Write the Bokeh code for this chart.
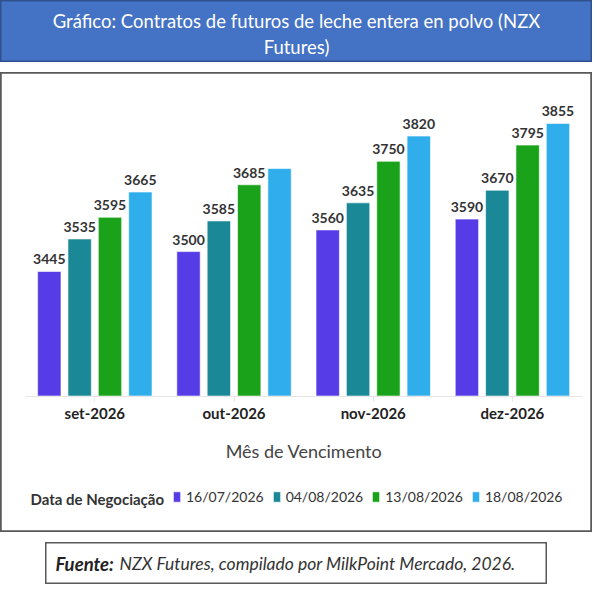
from bokeh.plotting import figure
from bokeh.models import (Range1d, Legend, LegendItem, Label, LinearAxis,
                          FixedTicker, ColumnDataSource)
from bokeh.transform import dodge
from bokeh.layouts import column
from bokeh.core.properties import value
from bokeh.embed import file_html
from bokeh.resources import INLINE

# ---------------- data ----------------
months = ["set-2026", "out-2026", "nov-2026", "dez-2026"]
dates = ["16/07/2026", "04/08/2026", "13/08/2026", "18/08/2026"]
v_1607 = [3445, 3500, 3560, 3590]
v_0408 = [3535, 3585, 3635, 3670]
v_1308 = [3595, 3685, 3750, 3795]
v_1808 = [3665, 3730, 3820, 3855]
# value labels shown above the bars (one is hidden in the original)
show_1607 = [True, True, True, True]
show_0408 = [True, True, True, True]
show_1308 = [True, True, True, True]
show_1808 = [True, False, True, True]
colors = ["#553CE6", "#1A8897", "#1AA31A", "#30AEEC"]
y_base = 3100

title_line1 = "Gráfico: Contratos de futuros de leche entera en polvo (NZX"
title_line2 = "Futures)"
x_title = "Mês de Vencimento"
legend_title = "Data de Negociação"
src_bold = "Fuente:"
src_rest = "NZX Futures, compilado por MilkPoint Mercado, 2026."

FONT = "Lato"
W = 592

# ---------------- title box ----------------
t = figure(width=W, height=62, x_range=Range1d(0, 1), y_range=Range1d(0, 1),
           toolbar_location=None, output_backend="svg", min_border=0,
           x_axis_location=None, y_axis_location=None)
t.grid.visible = False
t.background_fill_color = "#4472C4"
t.border_fill_color = "white"
t.outline_line_color = "#2F528F"
t.outline_line_width = 2
t.add_layout(Label(x=0.5, y=0.67, text=title_line1, text_align="center",
                   text_baseline="middle", text_color="white",
                   text_font=FONT, text_font_size="18.5px"))
t.add_layout(Label(x=0.5, y=0.25, text=title_line2, text_align="center",
                   text_baseline="middle", text_color="white",
                   text_font=FONT, text_font_size="18.5px"))

# ---------------- chart ----------------
series = [v_1607, v_0408, v_1308, v_1808]
shows = [show_1607, show_0408, show_1308, show_1808]
idx = list(range(len(months)))
data = {"idx": idx, "month": months}
for i, (vals, sh) in enumerate(zip(series, shows)):
    data[f"s{i}"] = vals
    data[f"l{i}"] = [str(v) if s else "" for v, s in zip(vals, sh)]
source = ColumnDataSource(data)

p = figure(width=W, height=460, x_range=Range1d(-0.6775, 3.575),
           y_range=Range1d(2722, 3996), toolbar_location=None,
           output_backend="svg", min_border=0,
           x_axis_location=None, y_axis_location=None)
p.grid.visible = False
p.outline_line_color = "#595959"
p.outline_line_width = 2.5
p.background_fill_color = "white"
p.border_fill_color = "white"

offsets = [-0.327, -0.109, 0.109, 0.327]
renderers = []
for i in range(4):
    r = p.vbar(x=dodge("idx", offsets[i]), top=f"s{i}", bottom=y_base,
               width=0.168, source=source, fill_color=colors[i],
               line_color="white", line_alpha=0.6, line_width=1)
    renderers.append(r)
    p.text(x=dodge("idx", offsets[i]), y=f"s{i}", text=f"l{i}",
           source=source, text_align="center", text_baseline="bottom",
           y_offset=-7, text_color="#333333", text_font=value(FONT),
           text_font_style="bold", text_font_size="14px")

ax = LinearAxis(fixed_location=y_base, ticker=FixedTicker(ticks=idx),
                major_label_overrides={i: m for i, m in zip(idx, months)},
                bounds=(-0.5, len(months) - 0.5))
ax.axis_line_color = "#E6E6E6"
ax.axis_line_width = 1
ax.major_tick_line_color = "#E6E6E6"
ax.major_tick_out = 5
ax.major_tick_in = 0
ax.minor_tick_line_color = None
ax.major_label_text_font = FONT
ax.major_label_text_font_style = "bold"
ax.major_label_text_font_size = "15px"
ax.major_label_text_color = "#222222"
ax.major_label_standoff = 3
ax.axis_label = x_title
ax.axis_label_text_font = FONT
ax.axis_label_text_font_style = "normal"
ax.axis_label_text_font_size = "18px"
ax.axis_label_text_color = "#444444"
ax.axis_label_standoff = 14
p.add_layout(ax, "below")

legend = Legend(items=[LegendItem(label=d, renderers=[r]) for d, r in zip(dates, renderers)],
                orientation="horizontal", location=(172, 27),
                label_text_font=FONT, label_text_font_size="14px",
                label_text_color="#333333", glyph_width=9, glyph_height=13,
                label_height=14, label_standoff=5, spacing=8, padding=0,
                margin=0, border_line_color=None, background_fill_alpha=0)
p.add_layout(legend, "center")
p.add_layout(Label(x=30, y=34, x_units="screen", y_units="screen",
                   text=legend_title, text_baseline="middle",
                   text_color="#333333", text_font=FONT,
                   text_font_style="bold", text_font_size="15px"))

# ---------------- source box ----------------
f = figure(width=502, height=42, x_range=Range1d(0, 1), y_range=Range1d(0, 1),
           toolbar_location=None, output_backend="svg", min_border=0,
           x_axis_location=None, y_axis_location=None)
f.grid.visible = False
f.outline_line_color = "#595959"
f.outline_line_width = 2
f.background_fill_color = "white"
f.add_layout(Label(x=10, y=0.5, x_units="screen", text=src_bold,
                   text_baseline="middle", text_color="#222222",
                   text_font=FONT, text_font_style="bold italic",
                   text_font_size="18.5px"))
f.add_layout(Label(x=74, y=0.5, x_units="screen", text=src_rest,
                   text_baseline="middle", text_color="#333333",
                   text_font=FONT, text_font_style="italic",
                   text_font_size="17.5px"))
f.align = "center"

layout = column(t, p, f, spacing=10)
open("out.html", "w").write(file_html(layout, INLINE))
